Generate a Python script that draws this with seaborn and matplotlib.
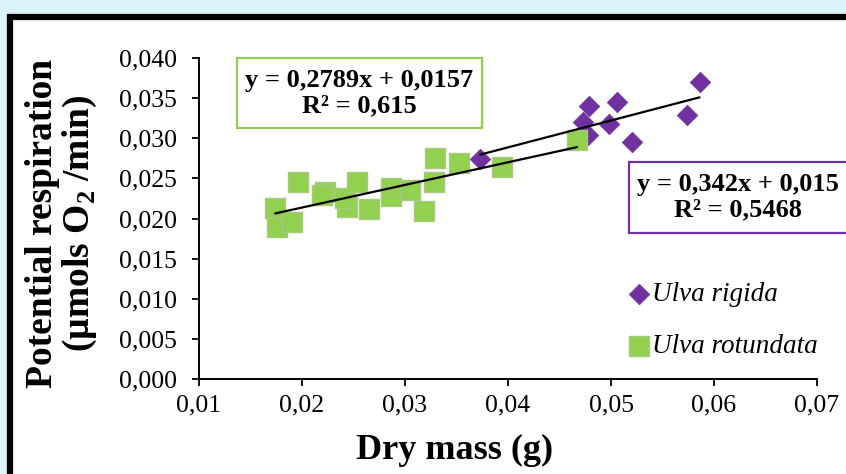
import matplotlib
matplotlib.use("Agg")
import matplotlib.pyplot as plt
import seaborn as sns
import pandas as pd
from matplotlib.patches import Rectangle
from matplotlib.ticker import FuncFormatter, MultipleLocator

# ── data ─────────────────────────────────────────────────────────────────────
rigida_mass = [0.0373, 0.0473, 0.0479, 0.0478, 0.0498, 0.0506, 0.0520, 0.0574, 0.0586]
rigida_resp = [0.0274, 0.0320, 0.0340, 0.0304, 0.0318, 0.0345, 0.0295, 0.0329, 0.0370]

rotundata_mass = [0.0174, 0.0176, 0.0190, 0.0196, 0.0222, 0.0219, 0.0244, 0.0242,
                  0.0253, 0.0265, 0.0286, 0.0286, 0.0305, 0.0318, 0.0328, 0.0329,
                  0.0352, 0.0394, 0.0467]
rotundata_resp = [0.0213, 0.0189, 0.0196, 0.0246, 0.0233, 0.0229, 0.0214, 0.0226,
                  0.0246, 0.0212, 0.0238, 0.0228, 0.0236, 0.0209, 0.0246, 0.0275,
                  0.0269, 0.0264, 0.0298]

species = ["Ulva rigida", "Ulva rotundata"]
colors = {"Ulva rigida": "#7030a0", "Ulva rotundata": "#92d050"}
eq_text = ["y = 0,342x + 0,015\nR² = 0,5468", "y = 0,2789x + 0,0157\nR² = 0,615"]

df_rig = pd.DataFrame({"mass": rigida_mass, "resp": rigida_resp})
df_rot = pd.DataFrame({"mass": rotundata_mass, "resp": rotundata_resp})

W, H = 846, 474
sns.set_style("white")
plt.rcParams["font.family"] = ["Liberation Serif", "DejaVu Serif"]
plt.rcParams["text.color"] = "black"

fig = plt.figure(figsize=(W / 100, H / 100), dpi=100, facecolor="#daf3f8")

# white panel with thick black frame (runs past right/bottom edge)
fig.patches.append(Rectangle((10 / W, -0.1), 1.2, 0.1 + 1 - 17 / H,
                             transform=fig.transFigure, facecolor="white",
                             edgecolor="black", lw=4.5, zorder=-5))

ax = fig.add_axes([199 / W, 1 - 379 / H, 618 / W, 321 / H])
ax.set_facecolor("none")

sns.scatterplot(data=df_rig, x="mass", y="resp", marker="D", s=110,
                color=colors["Ulva rigida"], edgecolor=colors["Ulva rigida"],
                linewidth=0.5, label="Ulva rigida", ax=ax, legend=False)
sns.scatterplot(data=df_rot, x="mass", y="resp", marker="s", s=200,
                color=colors["Ulva rotundata"], edgecolor="#a6c97e",
                linewidth=1, label="Ulva rotundata", ax=ax, legend=False)

for d in (df_rig, df_rot):
    sns.regplot(data=d, x="mass", y="resp", scatter=False, ci=None,
                color="black", line_kws={"lw": 1.6}, ax=ax)

ax.set_xlim(0.01, 0.07)
ax.set_ylim(0, 0.04)
ax.xaxis.set_major_locator(MultipleLocator(0.01))
ax.yaxis.set_major_locator(MultipleLocator(0.005))
ax.xaxis.set_major_formatter(FuncFormatter(lambda v, p: f"{v:.2f}".replace(".", ",")))
ax.yaxis.set_major_formatter(FuncFormatter(lambda v, p: f"{v:.3f}".replace(".", ",")))
ax.tick_params(axis="both", direction="out", length=5, width=1.3, colors="black",
               labelsize=18.5)
ax.tick_params(axis="y", pad=11, left=True)
ax.tick_params(axis="x", pad=6, bottom=True)
ax.set_xlabel("")
ax.set_ylabel("")
for side in ("top", "right"):
    ax.spines[side].set_visible(False)
for side in ("left", "bottom"):
    ax.spines[side].set_color("black")
    ax.spines[side].set_linewidth(1.4)

# axis titles
fig.text(455 / W, 1 - 450 / H, "Dry mass (g)", fontsize=26, fontweight="bold",
         ha="center", va="center")
fig.text(62 / W, 1 - 223 / H,
         "Potential respiration\n(µmols O$_\\mathregular{2}$ /min)",
         fontsize=27, fontweight="bold", rotation=90, ha="center", va="center",
         multialignment="center", linespacing=1.0)

# equation boxes
fig.patches.append(Rectangle((237 / W, 1 - 128 / H), 245 / W, 70 / H,
                             transform=fig.transFigure, facecolor="white",
                             edgecolor=colors["Ulva rotundata"], lw=1.6, zorder=5))
fig.text(359 / W, 1 - 93 / H, eq_text[1], fontsize=19, fontweight="bold",
         ha="center", va="center", linespacing=1.1, zorder=6)
fig.patches.append(Rectangle((629 / W, 1 - 233 / H), 240 / W, 71 / H,
                             transform=fig.transFigure, facecolor="white",
                             edgecolor=colors["Ulva rigida"], lw=1.6, zorder=5))
fig.text(738 / W, 1 - 197 / H, eq_text[0], fontsize=19, fontweight="bold",
         ha="center", va="center", linespacing=1.1, zorder=6)

leg = ax.legend(loc="upper left", bbox_to_anchor=(626 / W, 1 - 282 / H),
                bbox_transform=fig.transFigure, frameon=False, borderpad=0,
                borderaxespad=0, handlelength=0.95, handletextpad=0.0,
                labelspacing=1.0, prop={"family": "Liberation Serif",
                                        "style": "italic", "size": 19.5})

fig.savefig("out.png", dpi=100, facecolor=fig.get_facecolor())
